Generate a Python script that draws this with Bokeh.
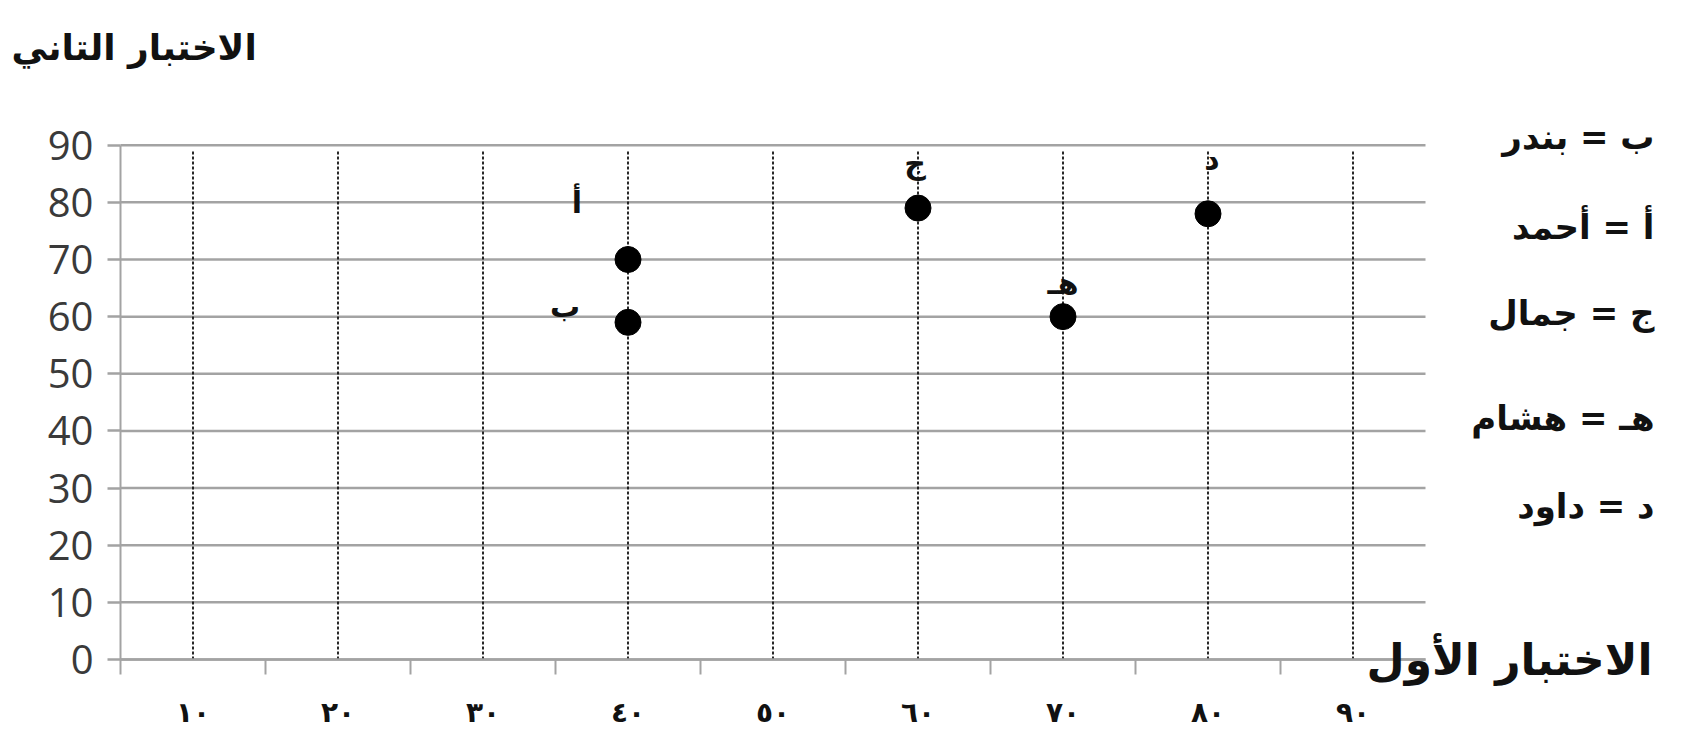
from bokeh.plotting import figure
from bokeh.models import FixedTicker, Label, ColumnDataSource, Range1d
from bokeh.core.properties import value
from bokeh.embed import file_html
from bokeh.resources import INLINE

# ---- data ----
point_letters = ["أ", "ب", "ج", "هـ", "د"]
first_test = [40, 40, 60, 70, 80]      # الاختبار الأول
second_test = [70, 59, 79, 60, 78]     # الاختبار التاني

y_ticks = [0, 10, 20, 30, 40, 50, 60, 70, 80, 90]
x_ticks = [10, 20, 30, 40, 50, 60, 70, 80, 90]
x_tick_labels = ["١٠", "٢٠", "٣٠", "٤٠", "٥٠", "٦٠", "٧٠", "٨٠", "٩٠"]
x_bin_edges = [5, 15, 25, 35, 45, 55, 65, 75, 85]

legend_lines = ["ب = بندر", "أ = أحمد", "ج = جمال", "هـ = هشام", "د = داود"]
x_title = "الاختبار الأول"
y_title = "الاختبار التاني"

# ---- layout / style ----
W, H = 1706, 748
AX_L, AX_B = 120, 659          # canvas px of axes origin (x=5, y=0)
PX_X = 14.5                    # px per x unit
PX_Y = 514.3 / 90              # px per y unit
X_START, Y_START = 5, 0
X_END, Y_END = 95, 90
ARABIC = "DejaVu Sans"
GRID = "#a3a3a3"

x_lo = X_START - AX_L / PX_X
x_hi = X_START + (W - AX_L) / PX_X
y_lo = Y_START - (H - AX_B) / PX_Y
y_hi = Y_START + AX_B / PX_Y

p = figure(width=W, height=H, x_range=Range1d(x_lo, x_hi), y_range=Range1d(y_lo, y_hi),
           output_backend="svg", toolbar_location=None,
           min_border_left=0, min_border_right=0, min_border_top=0, min_border_bottom=0)
p.outline_line_color = None
p.background_fill_color = "white"
p.border_fill_color = "white"
p.xgrid.visible = False
p.ygrid.visible = False

# horizontal grid lines (bounded to the plotting area)
n_y = len(y_ticks)
p.segment(x0=[X_START] * n_y, y0=y_ticks, x1=[X_END] * n_y, y1=y_ticks,
          line_color=GRID, line_width=2.5)
# vertical dashed lines through the x labels
n_x = len(x_ticks)
p.segment(x0=x_ticks, y0=[Y_START] * n_x, x1=x_ticks, y1=[Y_END - 1] * n_x,
          line_color="#111111", line_width=1.8, line_dash="3 2")

# y axis
ya = p.yaxis[0]
ya.fixed_location = X_START
ya.bounds = (Y_START, Y_END)
ya.ticker = FixedTicker(ticks=y_ticks)
ya.axis_line_color = GRID
ya.axis_line_width = 2
ya.major_tick_in = 0
ya.major_tick_out = 13
ya.major_tick_line_color = GRID
ya.major_tick_line_width = 2.5
ya.minor_tick_line_color = None
ya.major_label_standoff = 14
ya.major_label_text_font = "Open Sans"
ya.major_label_text_font_size = "40px"
ya.major_label_text_color = "#3a3a3a"

# x axis
xa = p.xaxis[0]
xa.fixed_location = Y_START
xa.bounds = (X_START, X_END)
xa.ticker = FixedTicker(ticks=x_ticks, minor_ticks=x_bin_edges)
xa.major_label_overrides = {t: s for t, s in zip(x_ticks, x_tick_labels)}
xa.axis_line_color = GRID
xa.axis_line_width = 2.5
xa.major_tick_in = 0
xa.major_tick_out = 0
xa.major_tick_line_color = None
xa.minor_tick_in = 0
xa.minor_tick_out = 15
xa.minor_tick_line_color = GRID
xa.minor_tick_line_width = 2
xa.major_label_standoff = 21
xa.major_label_text_font = ARABIC
xa.major_label_text_font_style = "bold"
xa.major_label_text_font_size = "28px"
xa.major_label_text_color = "#111111"

# points
label_dx = [-51, -63, -3, 0, 4]
label_dy = [-57, -16, -45, -33, -55]
src = ColumnDataSource(dict(x=first_test, y=second_test, t=point_letters,
                            dx=label_dx, dy=label_dy))
p.scatter("x", "y", source=src, size=26, color="black")
p.text("x", "y", text="t", source=src, x_offset="dx", y_offset="dy",
       text_font=value(ARABIC), text_font_style="bold", text_font_size="30px",
       text_align="center", text_baseline="middle", text_color="#111111")

# helpers converting canvas pixels to data units for annotations
def dx_(cx):
    return x_lo + cx / PX_X
def dy_(cy):
    return y_hi - cy / PX_Y

# legend (right side)
legend_y = [136, 226, 312, 417, 505]
for txt, cy in zip(legend_lines, legend_y):
    p.add_layout(Label(x=dx_(1654), y=dy_(cy), text=txt, text_align="right",
                       text_baseline="middle", text_font=ARABIC, text_font_style="bold",
                       text_font_size="34px", text_color="#111111"))

# axis titles
p.add_layout(Label(x=dx_(1652), y=dy_(659), text=x_title, text_align="right",
                   text_baseline="middle", text_font=ARABIC, text_font_style="bold",
                   text_font_size="44px", text_color="#111111"))
p.add_layout(Label(x=dx_(11), y=dy_(47), text=y_title, text_align="left",
                   text_baseline="middle", text_font=ARABIC, text_font_style="bold",
                   text_font_size="36px", text_color="#111111"))

open("out.html", "w").write(file_html(p, INLINE))
